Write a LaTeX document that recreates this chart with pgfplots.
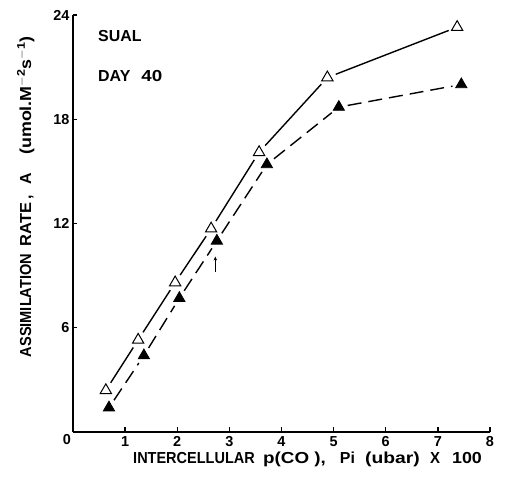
\documentclass[border=0pt]{standalone}
\usepackage{graphicx}
\usepackage{pgfplots}
\pgfplotsset{compat=1.18}
\usetikzlibrary{arrows.meta}
\usepackage{fontspec}
\setmainfont{Liberation Sans}
% piece of label text with a fixed width, horizontally scaled by a factor
\newcommand{\wbox}[3]{\makebox[#1]{\scalebox{#2}[1]{#3}}}
\begin{document}
\begin{tikzpicture}
\useasboundingbox (-73bp,-50bp) rectangle (433bp,432bp);
\begin{axis}[
  at={(0,0)}, anchor=south west,
  scale only axis, width=417bp, height=417bp,
  xmin=0, xmax=8, ymin=0, ymax=24,
  axis x line*=bottom, axis y line*=left,
  axis line style={line width=2.6bp, black},
  xtick={1,...,8}, ytick={6,12,18,24},
  tick align=inside, major tick length=4.5bp,
  tick style={line width=1.3bp, black},
  ticklabel style={font=\fontsize{14.5}{14.5}\selectfont\bfseries},
  xticklabel style={yshift=-1bp},
  /pgf/number format/assume math mode=true,
  xlabel={\wbox{122bp}{0.909}{INTERCELLULAR}\hspace{8bp}\wbox{63bp}{1.18}{p(CO\ ),}\hspace{14bp}\wbox{15bp}{1}{Pi}\hspace{10bp}\wbox{55bp}{1.21}{(ubar)}\hspace{10bp}\wbox{10bp}{0.94}{X}\hspace{12bp}\wbox{30bp}{1.12}{100}},
  ylabel={\wbox{105bp}{0.915}{ASSIMILATION}\hspace{6bp}\wbox{45bp}{1.03}{RATE}\hspace{3bp}\wbox{4bp}{1}{,}\hspace{10bp}\wbox{12bp}{1}{A}\hspace{21bp}\wbox{113bp}{1.12}{(umol.M$^{\mathbf{-2}}$s$^{\mathbf{-1}}$)}},
  xlabel style={font=\fontsize{16}{16}\selectfont\bfseries, at={(axis description cs:0.5624,-0.065)}, anchor=center, inner sep=0pt},
  ylabel style={font=\fontsize{16}{16}\selectfont\bfseries, at={(axis description cs:-0.113,0.560)}, anchor=center, inner sep=0pt},
  clip=false,
  solidseg/.style={black, line width=1.4bp, no marks, shorten <=9bp, shorten >=9bp},
  dashseg/.style={black, line width=1.4bp, no marks, dash pattern=on 14bp off 7bp, shorten <=9bp, shorten >=9bp},
]
% open-triangle series: solid line, broken at the marks
\addplot[solidseg] coordinates {(0.63,2.4) (1.25,5.3)};
\addplot[solidseg] coordinates {(1.25,5.3) (1.96,8.6)};
\addplot[solidseg] coordinates {(1.96,8.6) (2.65,11.7)};
\addplot[solidseg] coordinates {(2.65,11.7) (3.57,16.1)};
\addplot[solidseg] coordinates {(3.57,16.1) (4.88,20.4)};
\addplot[solidseg] coordinates {(4.88,20.4) (7.37,23.3)};
% filled-triangle series: dashed line, broken at the marks
\addplot[dashseg] coordinates {(0.69,1.4) (1.36,4.4)};
\addplot[dashseg] coordinates {(1.36,4.4) (2.04,7.7)};
\addplot[dashseg] coordinates {(2.04,7.7) (2.76,11.0)};
\addplot[dashseg] coordinates {(2.76,11.0) (3.72,15.4)};
\addplot[dashseg] coordinates {(3.72,15.4) (5.1,18.7)};
\addplot[dashseg] coordinates {(5.1,18.7) (7.45,20.0)};
% markers
\addplot[only marks, mark=triangle*, mark size=6.5bp, mark options={fill=white, draw=black, line width=1bp}] coordinates {
(0.63,2.4) (1.25,5.3) (1.96,8.6) (2.65,11.7) (3.57,16.1) (4.88,20.4) (7.37,23.3)};
\addplot[only marks, mark=triangle*, mark size=6.5bp, mark options={fill=black, draw=black, line width=0.8bp}] coordinates {
(0.69,1.4) (1.36,4.4) (2.04,7.7) (2.76,11.0) (3.72,15.4) (5.1,18.7) (7.45,20.0)};
\draw[-{Stealth[length=4bp,width=3.5bp]}, line width=1.1bp] (axis cs:2.73,9.2) -- (axis cs:2.73,10.1);
\node[anchor=west, inner sep=0pt, font=\fontsize{16}{16}\selectfont\bfseries] at (axis cs:0.48,22.8) {SUAL};
\node[anchor=west, inner sep=0pt, font=\fontsize{16}{16}\selectfont\bfseries] at (axis cs:0.48,20.5) {DAY\hspace{11bp}\wbox{21bp}{1.18}{40}};
\node[anchor=north east, font=\fontsize{14.5}{14.5}\selectfont\bfseries, inner sep=2bp] at (axis cs:0,0) {0};
\end{axis}
\end{tikzpicture}
\end{document}
